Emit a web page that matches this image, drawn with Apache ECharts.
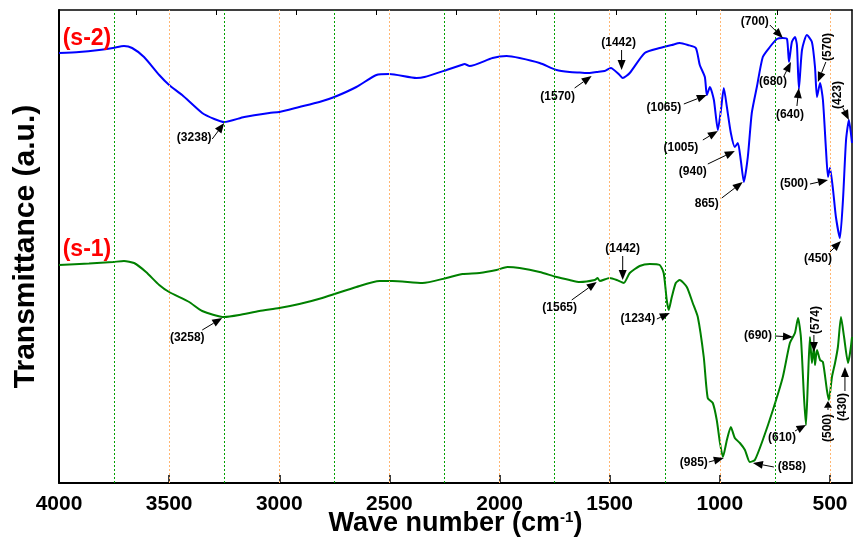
<!DOCTYPE html>
<html><head><meta charset="utf-8">
<script src="https://cdn.jsdelivr.net/npm/echarts@6/dist/echarts.min.js"></script>
<style>html,body{margin:0;padding:0;background:#fff}#c{width:853px;height:543px}</style>
</head><body><div id="c"></div>
<script>
// ---- data ----
const s2Wave = [4000,3909,3818,3755,3705,3668,3614,3545,3500,3441,3350,3295,3250,3159,3045,3000,2909,2818,2750,2650,2559,2500,2377,2341,2241,2173,2159,2136,2032,1968,1909,1818,1741,1682,1636,1591,1559,1523,1495,1455,1441,1409,1341,1273,1218,1182,1145,1109,1091,1068,1059,1045,1027,1009,995,982,968,950,932,918,905,891,873,855,832,805,773,741,714,695,686,673,659,650,641,627,605,582,568,559,545,532,518,509,500,486,473,455,441,427,414,400];
const s2Trans = [43.0,43.1,43.3,43.5,43.7,43.5,42.6,40.8,39.8,38.8,37.0,36.4,36.1,36.6,37.0,37.1,37.6,38.1,38.6,39.6,40.8,40.9,40.5,40.6,41.3,41.8,41.9,41.7,42.5,42.7,42.5,42.0,41.3,41.1,41.05,41.0,41.1,41.2,41.5,40.8,40.5,41.0,43.0,43.5,43.8,44.0,43.8,43.5,41.8,40.6,38.8,39.6,38.3,35.3,37.3,39.5,37.6,35.0,33.6,34.0,32.3,30.1,32.6,37.0,39.6,42.6,43.6,44.4,44.5,44.4,42.1,44.1,44.6,43.8,39.4,43.3,44.8,44.1,41.6,38.6,40.0,38.3,33.3,30.6,31.5,29.3,26.6,24.5,28.3,34.3,36.3,34.0];
const s1Wave = [4000,3864,3755,3705,3659,3605,3545,3500,3409,3350,3250,3182,3091,3000,2909,2805,2650,2545,2486,2350,2241,2168,2091,2014,1964,1909,1818,1741,1682,1636,1568,1555,1545,1500,1468,1436,1409,1364,1318,1273,1255,1241,1232,1218,1200,1182,1150,1123,1100,1073,1055,1032,1014,1000,986,968,950,932,909,886,864,841,805,759,714,682,659,645,632,618,609,600,591,582,573,568,559,545,532,514,505,491,477,464,450,436,418,409,400];
const s1Trans = [21.8,21.95,22.1,22.2,22.0,21.1,19.8,19.1,18.1,17.2,16.6,16.8,17.2,17.5,17.9,18.5,19.6,20.2,20.2,20.0,20.5,20.9,21.0,21.3,21.6,21.5,21.1,20.6,20.3,20.1,20.3,20.5,20.2,20.5,20.3,20.0,21.0,21.7,21.9,21.8,21.0,18.3,17.3,18.6,20.0,20.3,19.6,18.0,16.6,12.6,8.5,8.0,6.3,4.1,2.6,4.3,5.6,4.5,4.0,3.3,2.1,2.3,4.3,7.3,10.6,14.0,15.0,16.5,14.6,8.6,5.8,10.3,14.6,12.0,13.6,11.8,13.3,12.3,12.1,9.3,8.3,10.6,12.0,13.6,16.6,14.6,12.0,13.0,14.6];
const xTickLabels = [4000,3500,3000,2500,2000,1500,1000,500];
const minorGrid = [3750,3250,2750,2250,1750,1250,750];
const topTicks = [3650,3287,2923,2559,2196,1832,1469,1105,741];
const seriesTags = ['(s-2)','(s-1)'];
const s2Peaks = [['(3238)',3250,36.0],['(1570)',1582,40.7],['(1442)',1446,41.3],['(1065)',1059,38.8],['(1005)',1009,35.2],['(940)',932,33.2],['865)',896,30.1],['(700)',714,44.5],['(680)',677,42.1],['(640)',641,39.5],['(570)',555,40.1],['(423)',414,36.3],['(500)',509,30.3],['(450)',450,24.2]];
const s1Peaks = [['(3258)',3259,16.5],['(1565)',1559,20.1],['(1442)',1441,20.3],['(1234)',1227,17.0],['(985)',982,2.5],['(858)',850,2.0],['(690)',668,14.6],['(574)',573,13.1],['(610)',609,5.8],['(500)',509,8.2],['(430)',432,11.6]];

// ---- layout (pixel offsets of label text and arrow tail from arrow tip) ----
const s2Layout = [[-30,15,-12,16,0],[-34,21,-17,12,0],[-3,-27,0,-20,0],[-43,13,-23,9,0],[-37,17,-15,9,0],[-42,21,-27,13,0],[-36,22,-21,16,0],[-28,-16,-13,-13,0],[-18,20,-7,14,0],[-9,27,-2,18,0],[10,-35,8,-20,1],[-11,-25,-6,-12,1],[-34,4,-18,4,0],[-23,18,-11,11,0]];
const s1Layout = [[-35,20,-20,12,0],[-37,26,-25,18,0],[0,-31,0,-24,0],[-32,6,-13,6,0],[-30,5,-15,4,0],[39,4,21,4,0],[-35,-1,-18,-1,0],[2,-32,0,-17,1],[-24,13,-11,6,0],[0,27,0,9,1],[-2,40,0,24,1]];
const tagAnchor = [[3873,44.4],[3873,23.3]];

const FONT = '"Liberation Sans", Arial, Helvetica, sans-serif';
const zip = (a,b)=>a.map((v,i)=>[v,b[i]]);

const chart = echarts.init(document.getElementById('c'), null, {renderer:'canvas'});
const option = {
  animation:false,
  backgroundColor:'#fff',
  grid:{left:59,right:1,top:10,bottom:60},
  xAxis:[{
    type:'value', inverse:true, min:400, max:4000, position:'bottom',
    axisLine:{show:true,onZero:false,lineStyle:{color:'#000',width:2}},
    axisTick:{show:true,inside:true,length:8,customValues:xTickLabels,lineStyle:{color:'#000',width:1.5}},
    axisLabel:{show:true,customValues:xTickLabels,formatter:v=>String(v),fontFamily:FONT,fontWeight:'bold',fontSize:21,color:'#000',margin:11},
    splitLine:{show:false},
    name:'{a|Wave number (cm}{b|-1}{a|)}', nameLocation:'middle', nameGap:27, nameMoveOverlap:false,
    nameTextStyle:{rich:{
      a:{fontFamily:FONT,fontWeight:'bold',fontSize:27,color:'#000',verticalAlign:'bottom'},
      b:{fontFamily:FONT,fontWeight:'bold',fontSize:15,color:'#000',verticalAlign:'top'}}}
  },{
    type:'value', inverse:true, min:400, max:4000, position:'top',
    axisLine:{show:true,onZero:false,lineStyle:{color:'#000',width:1.5}},
    axisTick:{show:true,inside:true,length:5,customValues:topTicks,lineStyle:{color:'#000',width:1}},
    axisLabel:{show:false}, splitLine:{show:false}
  }],
  yAxis:[{
    type:'value', min:0, max:47.3,
    axisLine:{show:true,onZero:false,lineStyle:{color:'#000',width:2}},
    axisTick:{show:false}, axisLabel:{show:false}, splitLine:{show:false},
    name:'Transmittance (a.u.)', nameLocation:'middle', nameRotate:90, nameGap:18,
    nameTextStyle:{fontFamily:FONT,fontWeight:'bold',fontSize:30,color:'#000'}
  },{
    type:'value', min:0, max:47.3, position:'right',
    axisLine:{show:true,onZero:false,lineStyle:{color:'#000',width:1.5}},
    axisTick:{show:false}, axisLabel:{show:false}, splitLine:{show:false}
  }],
  series:[{
    type:'line', name:'grid', data:[], silent:true, z:1,
    markLine:{silent:true, symbol:['none','none'], label:{show:false}, animation:false,
      data:[
        ...minorGrid.map(v=>({xAxis:v, lineStyle:{color:'#00a000',width:1,type:[2,2]}})),
        ...xTickLabels.filter(v=>v<4000).map(v=>({xAxis:v, lineStyle:{color:'#ffb672',width:1,type:[2,2]}}))
      ]}
  },{
    type:'line', name:'s-2', data:zip(s2Wave,s2Trans), showSymbol:false, z:3, smooth:0.2,
    lineStyle:{color:'#0000ff',width:2}, itemStyle:{color:'#0000ff'}
  },{
    type:'line', name:'s-1', data:zip(s1Wave,s1Trans), showSymbol:false, z:3, smooth:0.2,
    lineStyle:{color:'#008000',width:2}, itemStyle:{color:'#008000'}
  }]
};
chart.setOption(option);

function buildAnno(peaks, layout){
  const out=[];
  peaks.forEach((p,i)=>{
    const L=layout[i];
    const tip=chart.convertToPixel({xAxisIndex:0,yAxisIndex:0},[p[1],p[2]]);
    const tx=tip[0]+L[0], ty=tip[1]+L[1];
    const sx=tip[0]+L[2], sy=tip[1]+L[3];
    const dx=tip[0]-sx, dy=tip[1]-sy; const len=Math.hypot(dx,dy)||1;
    const ux=dx/len, uy=dy/len; const hl=Math.min(10,len*0.75), hw=4;
    const bx=tip[0]-ux*hl, by=tip[1]-uy*hl;
    out.push({type:'line',silent:true,z:100,shape:{x1:sx,y1:sy,x2:bx,y2:by},style:{stroke:'#000',lineWidth:1}});
    out.push({type:'polygon',silent:true,z:100,shape:{points:[[tip[0],tip[1]],[bx-uy*hw,by+ux*hw],[bx+uy*hw,by-ux*hw]]},style:{fill:'#000'}});
    out.push({type:'text',silent:true,z:100,x:tx,y:ty,rotation:L[4]?Math.PI/2:0,
      style:{text:p[0],font:'bold 12px '+FONT,fill:'#000',align:'center',verticalAlign:'middle',textAlign:'center',textVerticalAlign:'middle'}});
  });
  return out;
}
const g = [...buildAnno(s2Peaks,s2Layout), ...buildAnno(s1Peaks,s1Layout)];
seriesTags.forEach((t,i)=>{
  const p=chart.convertToPixel({xAxisIndex:0,yAxisIndex:0},tagAnchor[i]);
  g.push({type:'text',silent:true,z:100,x:p[0],y:p[1],
    style:{text:t,font:'bold 23px '+FONT,fill:'#ff0000',align:'center',verticalAlign:'middle',textAlign:'center',textVerticalAlign:'middle'}});
});
chart.setOption({graphic:g});
</script>
</body></html>
